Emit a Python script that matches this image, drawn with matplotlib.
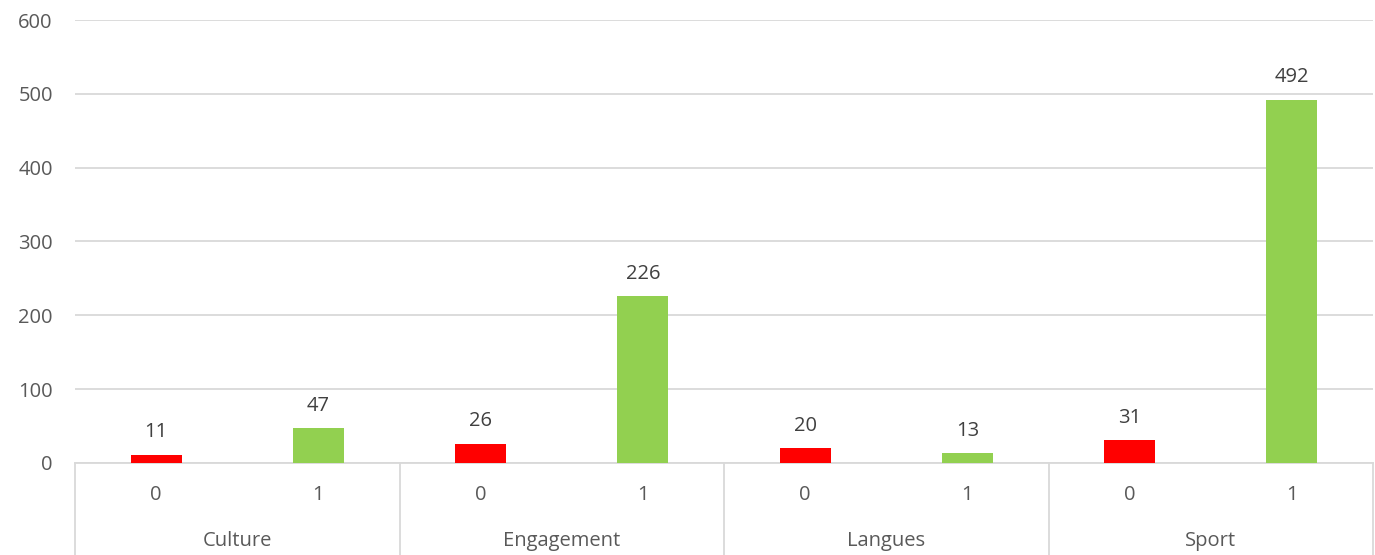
import matplotlib
matplotlib.use("Agg")
import matplotlib.pyplot as plt
import matplotlib.transforms as mtransforms

plt.rcParams['font.family'] = ['Open Sans', 'DejaVu Sans']

groups = ["Culture", "Engagement", "Langues", "Sport"]
sub_labels = ["0", "1"]
values = [11, 47, 26, 226, 20, 13, 31, 492]
colors_sub = ["#FF0000", "#92D050"]
yticks = [0, 100, 200, 300, 400, 500, 600]

W, H = 1375, 555
fig = plt.figure(figsize=(W / 100, H / 100), dpi=100)
ax = fig.add_axes([75 / W, (H - 463) / H, (1373 - 75) / W, (463 - 20) / H])

FS = 14.5
n = len(values)
xs = list(range(n))
bar_colors = [colors_sub[i % 2] for i in range(n)]
ax.bar(xs, values, width=0.315, color=bar_colors, zorder=3)
for x, v in zip(xs, values):
    ax.annotate(str(v), (x, v), xytext=(0, 9), textcoords="offset points",
                ha="center", va="bottom", fontsize=FS, color="#404040")

ax.set_xlim(-0.5, n - 0.5)
ax.set_ylim(0, 600)
ax.set_yticks(yticks)
ax.set_yticklabels([str(t) for t in yticks], fontsize=FS, color="#595959")
ax.tick_params(axis="y", length=0, pad=16)
ax.set_xticks([])
ax.grid(axis="y", color="#D9D9D9", linewidth=1.3, zorder=0)
for s in ["top", "right", "left"]:
    ax.spines[s].set_visible(False)
ax.spines["bottom"].set_color("#D9D9D9")
ax.spines["bottom"].set_linewidth(1.3)

trans = mtransforms.blended_transform_factory(ax.transData, fig.transFigure)
y0 = (H - 463) / H
for b in [-0.5, 1.5, 3.5, 5.5, 7.5]:
    ax.plot([b, b], [y0, 0], transform=trans, color="#D9D9D9", lw=1.3, clip_on=False)
for x in xs:
    ax.text(x, (H - 495) / H, sub_labels[x % 2], transform=trans, ha="center", va="center",
            fontsize=FS, color="#595959")
for g, name in enumerate(groups):
    ax.text(2 * g + 0.5, (H - 541) / H, name, transform=trans, ha="center", va="center",
            fontsize=FS, color="#595959")

fig.savefig("out.png", dpi=100)
